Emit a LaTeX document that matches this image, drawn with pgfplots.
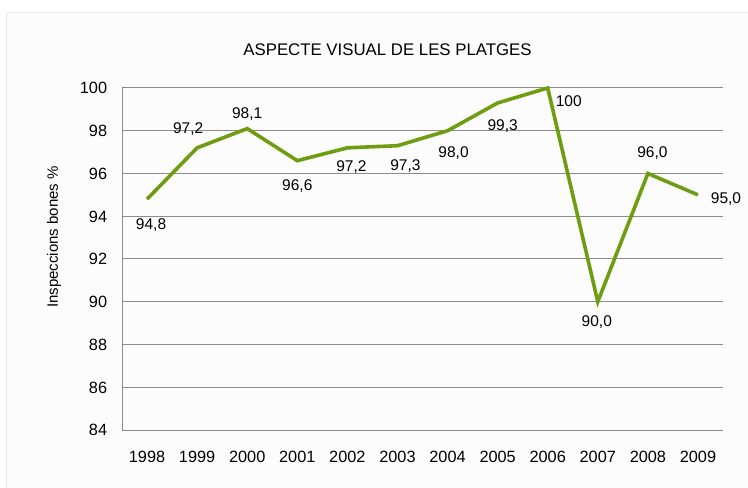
\documentclass[border=0pt]{standalone}
\usepackage{pgfplots}
\pgfplotsset{compat=1.18}
\usepackage{pgfplotstable}
\usepackage{fontspec}
\setmainfont{Liberation Sans}
\definecolor{linegreen}{RGB}{110,157,17}
\definecolor{gridgray}{RGB}{140,140,140}
\definecolor{bgfill}{RGB}{252,252,252}
\definecolor{bordercol}{RGB}{236,236,229}

\pgfplotstableread{
x y lbl dx dy
0 94.8 94,8 4 24.5
1 97.2 97,2 -9 -20
2 98.1 98,1 0 -15.5
3 96.6 96,6 0 24.7
4 97.2 97,2 4 18
5 97.3 97,3 8 19.7
6 98.0 98,0 6 21.3
7 99.3 99,3 5 22.4
8 100.0 100 21 12.8
9 90.0 90,0 -1 19.3
10 96.0 96,0 4.5 -22
11 95.0 95,0 28 3
}\datatable

\begin{document}
\begin{tikzpicture}
\useasboundingbox (0,0) rectangle (748bp,488bp);
\fill[white] (0,0) rectangle (748bp,488bp);
\draw[bordercol, fill=bgfill, line width=1bp] (6.5bp,-2bp) rectangle (750bp,475.5bp);
\node[anchor=base, font=\fontsize{16.8bp}{20bp}\selectfont] at (387.5bp,432.5bp) {ASPECTE VISUAL DE LES PLATGES};
\node[rotate=90, anchor=center, font=\fontsize{15bp}{18bp}\selectfont] at (54bp,251bp) {Inspeccions bones \%};
\begin{axis}[
  at={(122bp,58bp)}, anchor=south west,
  width=601bp, height=342bp, scale only axis,
  xmin=-0.5, xmax=11.5, ymin=84, ymax=100,
  xtick={0,...,11},
  xticklabels={1998,1999,2000,2001,2002,2003,2004,2005,2006,2007,2008,2009},
  ytick={84,86,...,100},
  /pgf/number format/assume math mode=true,
  axis x line*=bottom, axis y line*=left,
  axis line style={gridgray, line width=1bp, -},
  ymajorgrids, grid style={gridgray, line width=1bp},
  major tick length=0pt,
  tick label style={font=\fontsize{16.3bp}{19bp}\selectfont, text height=11.7bp, text depth=0pt, inner sep=0pt},
  xticklabel style={anchor=north, yshift=-21bp},
  yticklabel style={anchor=east, xshift=-14.7bp},
  clip=false,
]
\addplot[linegreen, line width=3.6bp, line join=miter,
  nodes near coords, point meta=explicit symbolic,
  visualization depends on={\thisrow{dx} \as \mydx},
  visualization depends on={\thisrow{dy} \as \mydy},
  every node near coord/.append style={black, anchor=center, inner sep=0pt,
    text height=11.1bp, text depth=0pt,
    font=\fontsize{15.5bp}{18bp}\selectfont,
    xshift=\mydx bp, yshift=-\mydy bp}
] table[x=x, y=y, meta=lbl] {\datatable};
\end{axis}
\end{tikzpicture}
\end{document}
